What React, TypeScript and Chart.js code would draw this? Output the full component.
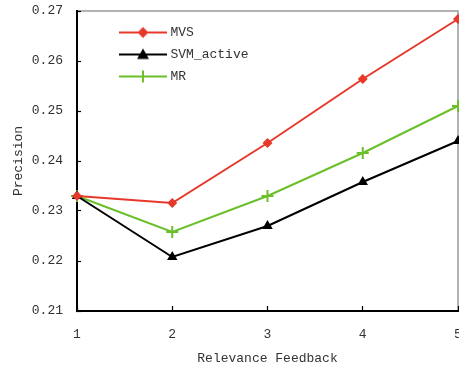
import React, { useEffect, useRef } from "react";
import { Chart, registerables } from "chart.js";

Chart.register(...registerables);

const categories = [1, 2, 3, 4, 5];
const mvs = [0.233, 0.2316, 0.2436, 0.2564, 0.2684];
const svmActive = [0.233, 0.2208, 0.227, 0.2358, 0.244];
const mr = [0.233, 0.2258, 0.233, 0.2416, 0.251];
const yTicks = [0.21, 0.22, 0.23, 0.24, 0.25, 0.26, 0.27];
const seriesNames = ["MVS", "SVM_active", "MR"];

const RED = "#e6392a";
const BLACK = "#000000";
const GREEN = "#6abf2a";
const FONT = "'Liberation Mono', 'DejaVu Sans Mono', monospace";

function legendImage(color: string, style: string): HTMLCanvasElement {
  const c = document.createElement("canvas");
  c.width = 84;
  c.height = 14;
  const ctx = c.getContext("2d")!;
  ctx.strokeStyle = color;
  ctx.fillStyle = color;
  ctx.lineWidth = 2;
  ctx.beginPath();
  ctx.moveTo(36, 7);
  ctx.lineTo(84, 7);
  ctx.stroke();
  const cx = 60, cy = 7;
  if (style === "diamond") {
    ctx.beginPath();
    ctx.moveTo(cx, cy - 5.5);
    ctx.lineTo(cx + 5.5, cy);
    ctx.lineTo(cx, cy + 5.5);
    ctx.lineTo(cx - 5.5, cy);
    ctx.closePath();
    ctx.fill();
  } else if (style === "triangle") {
    ctx.beginPath();
    ctx.moveTo(cx, cy - 6);
    ctx.lineTo(cx + 6, cy + 4.5);
    ctx.lineTo(cx - 6, cy + 4.5);
    ctx.closePath();
    ctx.fill();
  } else {
    ctx.beginPath();
    ctx.moveTo(cx - 6, cy);
    ctx.lineTo(cx + 6, cy);
    ctx.moveTo(cx, cy - 6);
    ctx.lineTo(cx, cy + 6);
    ctx.stroke();
  }
  return c;
}

export default function App() {
  const ref = useRef<HTMLCanvasElement>(null);
  useEffect(() => {
    if (!ref.current) return;
    const toPts = (arr: number[]) => categories.map((x, i) => ({ x, y: arr[i] }));
    const imgs = [
      legendImage(RED, "diamond"),
      legendImage(BLACK, "triangle"),
      legendImage(GREEN, "cross"),
    ];
    const frame = {
      id: "frame",
      beforeDraw(chart: any) {
        const { ctx, chartArea: a } = chart;
        ctx.save();
        ctx.strokeStyle = "#9a9a9a";
        ctx.lineWidth = 1.5;
        ctx.strokeRect(a.left, a.top, a.right - a.left, a.bottom - a.top);
        ctx.restore();
      },
    };
    const chart = new Chart(ref.current, {
      type: "line",
      data: {
        datasets: [
          {
            label: seriesNames[0],
            data: toPts(mvs),
            borderColor: RED,
            backgroundColor: RED,
            borderWidth: 2,
            pointStyle: "rectRot",
            pointRadius: 5,
            pointBorderWidth: 0,
            clip: false as any,
          },
          {
            label: seriesNames[1],
            data: toPts(svmActive),
            borderColor: BLACK,
            backgroundColor: BLACK,
            borderWidth: 2,
            pointStyle: "triangle",
            pointRadius: 6,
            pointBorderWidth: 0,
            clip: false as any,
          },
          {
            label: seriesNames[2],
            data: toPts(mr),
            borderColor: GREEN,
            backgroundColor: GREEN,
            borderWidth: 2,
            pointStyle: "cross",
            pointRadius: 6,
            pointBorderWidth: 2,
            clip: false as any,
          },
        ],
      },
      options: {
        animation: false,
        responsive: false,
        layout: { padding: { left: 0, right: 1, top: 11, bottom: 0 } },
        plugins: {
          tooltip: { enabled: false },
          legend: {
            position: "chartArea" as any,
            align: "start",
            title: { display: true, text: " ", font: { size: 5 }, padding: { top: 0, bottom: 11 } },
            labels: {
              usePointStyle: true,
              pointStyleWidth: 78,
              padding: 9,
              color: "#333",
              font: { family: FONT, size: 13 },
              generateLabels: () =>
                seriesNames.map((n, i) => ({
                  text: n,
                  pointStyle: imgs[i],
                  datasetIndex: i,
                  fillStyle: "transparent",
                  strokeStyle: "transparent",
                  lineWidth: 0,
                  fontColor: "#333",
                })) as any,
            },
          },
        },
        scales: {
          x: {
            type: "linear",
            min: 1,
            max: 5,
            afterFit: (s: any) => {
              s.height = 59;
              s.paddingLeft = 0;
              s.paddingRight = 0;
              s.paddingTop = 0;
              s.paddingBottom = 0;
            },
            afterBuildTicks: (s: any) => {
              s.ticks = categories.map((v) => ({ value: v }));
            },
            ticks: {
              color: "#333",
              font: { family: FONT, size: 13 },
              padding: 21,
              maxRotation: 0,
              autoSkip: false,
              callback: (v: any) => String(v),
            },
            grid: {
              drawOnChartArea: false,
              drawTicks: true,
              tickLength: -5,
              color: "#000",
              tickColor: "#000",
              tickWidth: 1.2,
            },
            border: { color: "#000", width: 2 },
            title: {
              display: true,
              text: "Relevance Feedback",
              color: "#333",
              font: { family: FONT, size: 13 },
              padding: { top: 0, bottom: 4 },
            },
          },
          y: {
            type: "linear",
            min: 0.21,
            max: 0.27,
            afterFit: (s: any) => {
              s.width = 77;
              s.paddingLeft = 0;
              s.paddingRight = 0;
              s.paddingTop = 0;
              s.paddingBottom = 0;
            },
            afterBuildTicks: (s: any) => {
              s.ticks = yTicks.map((v) => ({ value: v }));
            },
            ticks: {
              color: "#333",
              font: { family: FONT, size: 13 },
              padding: 18,
              autoSkip: false,
              callback: (v: any) => Number(v).toFixed(2),
            },
            grid: {
              drawOnChartArea: false,
              drawTicks: true,
              tickLength: -4,
              color: "#000",
              tickColor: "#000",
              tickWidth: 1.2,
            },
            border: { color: "#000", width: 2 },
            title: {
              display: true,
              text: "Precision",
              color: "#333",
              font: { family: FONT, size: 13 },
              padding: { top: 11, bottom: 0 },
            },
          },
        },
      },
      plugins: [frame],
    });
    return () => chart.destroy();
  }, []);
  return (
    <div style={{ position: "fixed", left: 0, top: 0, width: 459, height: 370, background: "#fff", overflow: "hidden" }}>
      <canvas ref={ref} width={466} height={370} style={{ display: "block" }} />
    </div>
  );
}
